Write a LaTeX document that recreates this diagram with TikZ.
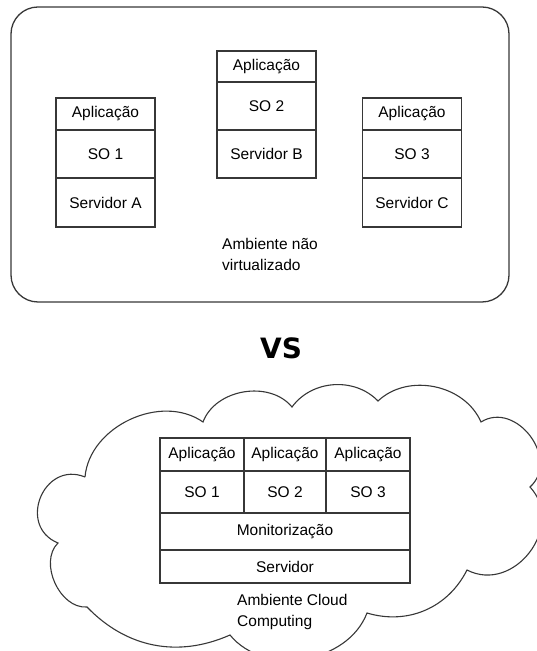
\documentclass[tikz,border=0pt]{standalone}
\usepackage{fontspec}
\setmainfont{Liberation Sans}
\newfontfamily\vsfont{DejaVu Sans}
\usetikzlibrary{positioning}
\definecolor{lineGray}{RGB}{55,55,55}

\begin{document}
\begin{tikzpicture}[x=1pt, y=1pt,
		cell/.style={draw=lineGray, line width=1.3pt, minimum width=99pt, inner sep=0pt, outer sep=0pt, font=\fontsize{15.5}{18}\selectfont},
		envlabel/.style={align=left, anchor=west, inner sep=0pt, font=\fontsize{15.5}{21}\selectfont}]
				\useasboundingbox (0,0) rectangle (537,651);
				% ambiente nao virtualizado
				\draw[lineGray, line width=1.3pt, rounded corners=27pt] (11,349) rectangle (509,644);
				\node[cell, anchor=north, minimum height=32pt] (appA) at (105.5,553) {Aplicação};
				\node[cell, minimum height=48pt, below=0pt of appA] (soA) {SO 1};
				\node[cell, minimum height=49pt, below=0pt of soA] (srvA) {Servidor A};
				\node[cell, anchor=north, minimum height=31pt] (appB) at (266.5,600) {Aplicação};
				\node[cell, minimum height=48pt, below=0pt of appB] (soB) {SO 2};
				\node[cell, minimum height=48pt, below=0pt of soB] (srvB) {Servidor B};
				\node[cell, anchor=north, minimum height=32pt] (appC) at (412,553) {Aplicação};
				\node[cell, minimum height=48pt, below=0pt of appC] (soC) {SO 3};
				\node[cell, minimum height=49pt, below=0pt of soC] (srvC) {Servidor C};
				\node[envlabel] (envA) at (222,396.5) {Ambiente não\\virtualizado};
				\node[font=\vsfont\bfseries\fontsize{28}{30}\selectfont] (vs) at (281,303) {VS};
				% nuvem
				\draw[lineGray, line width=1.1pt] (85,174) to[bend left=60] (203,229) to[bend left=60] (292,244)
					to[bend left=50] (378,250) to[bend left=55] (481,229) to[bend left=85, looseness=1.3] (530,164)
					to[bend left=80, looseness=1.3] (467,81) to[bend left=40] (367,38) to[bend left=60] (230,16)
					to[bend left=35] (87,44) to[bend left=70] (58,108) to[bend left=90, looseness=1.6] (85,174);
				\node[cell, anchor=north, minimum width=84pt, minimum height=33pt] (appOne) at (202,213) {Aplicação};
				\node[cell, minimum width=82pt, minimum height=33pt, right=0pt of appOne] (appTwo) {Aplicação};
				\node[cell, minimum width=84pt, minimum height=33pt, right=0pt of appTwo] (appThree) {Aplicação};
				\node[cell, minimum width=84pt, minimum height=42pt, below=0pt of appOne] (soOne) {SO 1};
				\node[cell, minimum width=82pt, minimum height=42pt, below=0pt of appTwo] (soTwo) {SO 2};
				\node[cell, minimum width=84pt, minimum height=42pt, below=0pt of appThree] (soThree) {SO 3};
				\node[cell, anchor=north west, minimum width=250pt, minimum height=37pt] (monitor) at (soOne.south west) {Monitorização};
				\node[cell, minimum width=250pt, minimum height=33pt, below=0pt of monitor] (server) {Servidor};
				\node[envlabel] (envB) at (237,39.5) {Ambiente Cloud\\Computing};
			\end{tikzpicture}
\end{document}
